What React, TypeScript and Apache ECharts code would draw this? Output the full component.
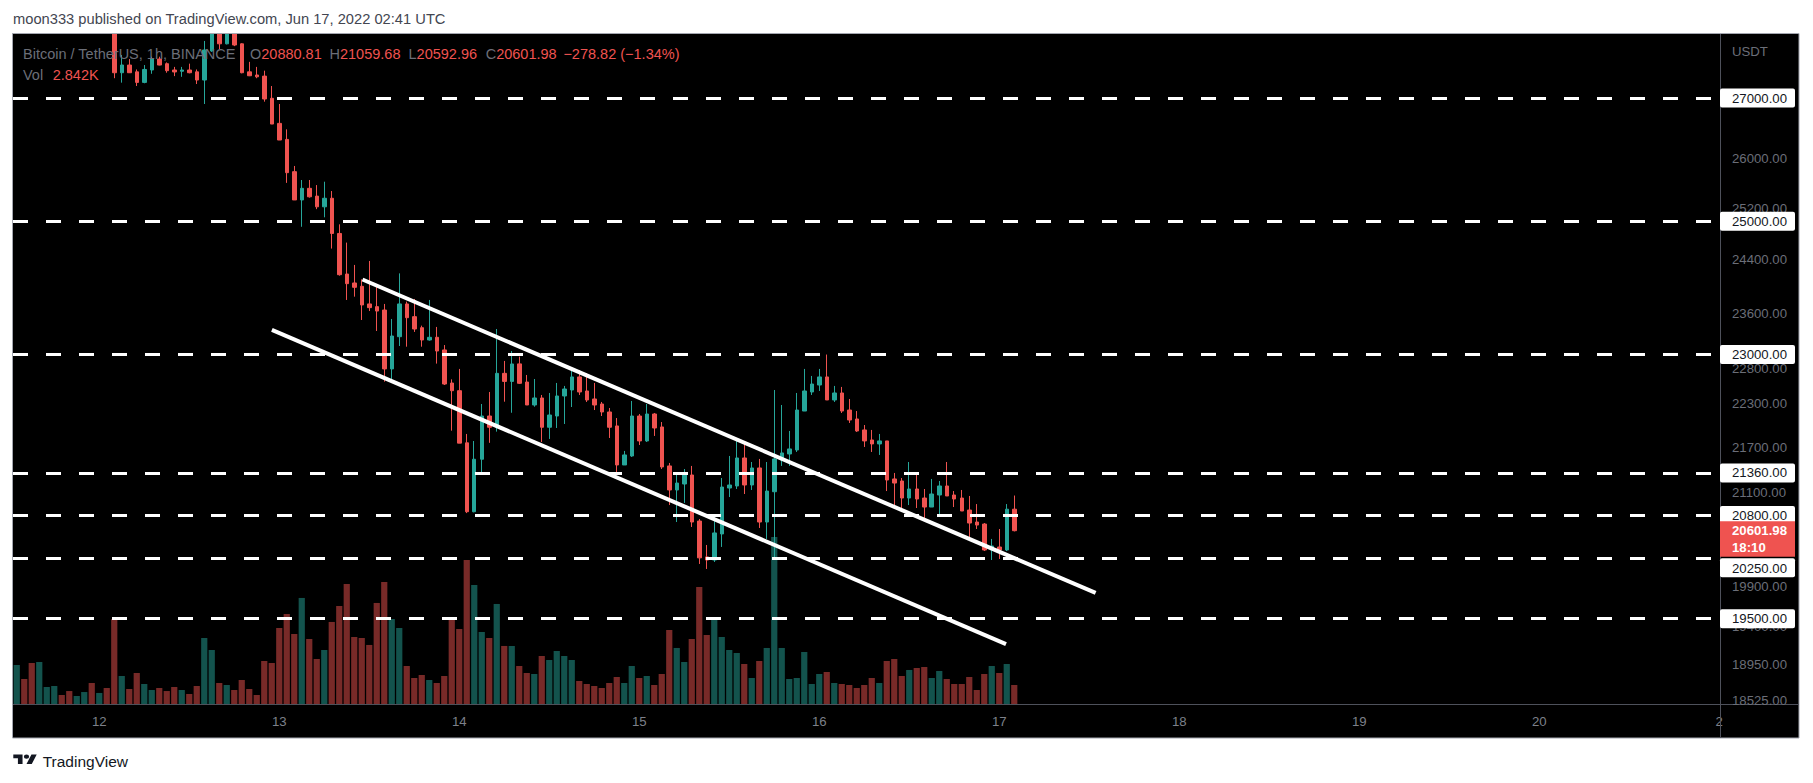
import React, { useEffect, useRef } from "react";
import * as echarts from "echarts";

// ---------- data ----------
const START_DAY = 11; // first category: Jun 11 13:00
const START_HOUR = 13;
const CATEGORY_COUNT = 228; // hourly slots up to Jun 21 00:00

const opens = [
  28920, 28990, 28900, 28780, 28850, 28880, 28910, 28870, 28820, 28850,
  28880, 28780, 28810, 28640, 27430, 27562, 27445, 27265, 27477, 27665,
  27585, 27477, 27455, 27477, 27445, 27305, 27805, 28180, 27930, 28150,
  27930, 27445, 27391, 27372, 26995, 26575, 26310, 25785, 25333, 25518,
  25394, 25225, 25360, 24808, 24187, 24052, 24002, 23739, 23699, 23649,
  22794, 23258, 23739, 23551, 23389, 23210, 23249, 23066, 22594, 22486,
  21765, 20848, 21543, 22133, 21978, 22731, 22617, 22866, 22608, 22286,
  22384, 21978, 22133, 22412, 22496, 22680, 22482, 22370, 22300, 22189,
  21996, 21466, 21587, 22133, 21791, 22161, 21982, 21453, 21133, 21212,
  21332, 20727, 20267, 20228, 20560, 21159, 21186, 21560, 21199, 21426,
  20714, 21110, 21533, 21614, 21668, 22202, 22468, 22566, 22680, 22356,
  22454, 22216, 22092, 21941, 21804, 21750, 21791, 21279, 21252, 21027,
  21146, 21027, 20909, 21067, 21186, 21067, 21027, 20870, 20714, 20688,
  20355, 20393, 20355, 20880.81,
];
const closes = [
  28990, 28900, 28780, 28850, 28880, 28910, 28870, 28820, 28850, 28880,
  28780, 28810, 28640, 27430, 27563, 27430, 27265, 27486, 27665, 27562,
  27465, 27443, 27477, 27430, 27305, 27822, 28180, 27930, 28150, 27909,
  27430, 27378, 27360, 26983, 26564, 26300, 25769, 25333, 25518, 25383,
  25225, 25360, 24808, 24177, 24042, 23987, 23724, 23684, 23634, 22794,
  23268, 23739, 23536, 23370, 23210, 23249, 23051, 22580, 22486, 21761,
  20848, 21543, 22133, 21978, 22731, 22617, 22865, 22590, 22286, 22384,
  21978, 22147, 22412, 22510, 22680, 22468, 22356, 22286, 22189, 21978,
  21466, 21601, 22133, 21791, 22161, 21968, 21439, 21133, 21225, 21332,
  20714, 20255, 20228, 20573, 21172, 21199, 21560, 21199, 21426, 20714,
  21119, 21547, 21628, 21682, 22216, 22482, 22580, 22680, 22356, 22454,
  22202, 22078, 21927, 21791, 21750, 21791, 21265, 21225, 21027, 21146,
  21014, 20909, 21080, 21186, 21054, 21014, 20857, 20701, 20675, 20355,
  20406, 20355, 20880.8, 20601.98,
];
const lows = [
  28880, 28850, 28740, 28730, 28800, 28850, 28840, 28790, 28800, 28820,
  28740, 28750, 28600, 27336, 27260, 27425, 27203, 27250, 27412, 27557,
  27430, 27372, 27360, 27420, 27237, 26899, 27790, 27835, 27920, 27890,
  27420, 27372, 27336, 26938, 26564, 26300, 25605, 25333, 24912, 25370,
  25188, 25060, 24575, 24162, 23798, 23847, 23502, 23634, 23341, 22613,
  22623, 23123, 23113, 23327, 23113, 23200, 22870, 22566, 21931, 21761,
  20830, 20840, 21370, 21765, 21918, 22332, 22178, 22580, 22286, 22262,
  21776, 21818, 21968, 22023, 22258, 22426, 22328, 22216, 22133, 21831,
  21359, 21466, 21574, 21736, 21777, 21859, 21412, 20935, 20714, 20962,
  20650, 20178, 20115, 20203, 20394, 21040, 21146, 21080, 21133, 20637,
  20496, 20266, 21453, 21453, 21641, 22202, 22426, 22482, 22356, 22328,
  22175, 22037, 21914, 21709, 21641, 21601, 21119, 20883, 20896, 20935,
  20896, 20740, 20909, 20818, 21054, 20909, 20857, 20496, 20624, 20342,
  20228, 20241, 20342, 20592.96,
];
const highs = [
  29050, 29020, 28950, 28900, 28930, 28960, 28940, 28900, 28880, 28910,
  28900, 28850, 28830, 28660, 27735, 27665, 27486, 27562, 27706, 27706,
  27607, 27530, 27530, 27586, 27486, 27980, 28250, 28220, 28200, 28190,
  27940, 27617, 27530, 27465, 27203, 26899, 26476, 25877, 25651, 25651,
  25570, 25624, 25475, 24950, 24667, 24325, 24107, 24385, 24002, 23739,
  23517, 24197, 23773, 23813, 23419, 23798, 23400, 23137, 22646, 22794,
  21886, 21790, 22300, 22468, 23370, 22908, 23051, 22970, 22708, 22651,
  22426, 22454, 22595, 22553, 22794, 22779, 22736, 22595, 22328, 22244,
  22105, 21655, 22342, 22161, 22300, 22175, 22050, 21493, 21345, 21412,
  21453, 20753, 20419, 20818, 21292, 21587, 21804, 21777, 21506, 21547,
  21506, 22496, 22286, 21927, 22454, 22794, 22694, 22794, 23000, 22553,
  22539, 22370, 22202, 22009, 21941, 21886, 21791, 21359, 21292, 21506,
  21359, 21146, 21279, 21252, 21506, 21119, 21133, 21054, 20948, 20701,
  20496, 20624, 20948, 21059.68,
];
// volume in thousands of BTC
const volumesK = [
  5.83, 3.74, 6.13, 6.28, 2.54, 2.69, 1.35, 1.94, 1.2, 1.79,
  3.14, 1.65, 2.39, 12.71, 4.19, 2.24, 4.64, 2.99, 2.09, 2.39,
  1.94, 2.54, 2.09, 1.5, 2.69, 9.87, 8.08, 3.14, 2.84, 2.09,
  3.59, 2.24, 1.35, 6.43, 6.13, 11.37, 13.46, 10.47, 15.86, 9.72,
  6.73, 8.08, 12.27, 14.66, 17.95, 10.02, 9.87, 8.83, 15.11, 18.25,
  12.71, 11.37, 5.68, 3.89, 4.34, 3.59, 3.14, 4.19, 13.01, 11.22,
  21.54, 17.8, 10.77, 9.87, 14.96, 8.68, 8.68, 5.68, 4.64, 4.49,
  7.18, 6.58, 7.93, 7.18, 6.58, 3.44, 2.99, 2.69, 2.39, 3.14,
  4.04, 3.14, 5.68, 3.89, 4.19, 2.84, 4.49, 11.07, 8.38, 6.28,
  9.72, 17.5, 10.32, 13.01, 10.02, 8.08, 7.63, 5.98, 3.89, 6.43,
  8.38, 24.98, 8.38, 3.74, 3.89, 7.78, 2.99, 4.49, 4.79, 3.14,
  2.99, 2.84, 2.39, 2.84, 3.89, 3.14, 6.43, 6.73, 4.19, 5.09,
  5.38, 5.53, 3.89, 4.94, 3.74, 2.99, 2.99, 4.04, 2.09, 4.49,
  5.68, 4.64, 5.98, 2.842,
];

// day tick labels at midnights Jun 12 .. Jun 21 (last one clipped by the pane)
const dayTickLabels = ["12", "13", "14", "15", "16", "17", "18", "19", "20", "2"];
// price-scale labels shown by the chart
const priceScaleLabels = [26000, 25200, 24400, 23600, 22800, 22300, 21700, 21100, 19900, 19400, 18950, 18525];
// horizontal levels drawn by the author
const levelPrices = [27000, 25000, 23000, 21360, 20800, 20250, 19500];
// channel lines: [category position, price]
const upperChannel = [
  [46.1, 24104],
  [143.85, 19816],
];
const lowerChannel = [
  [34.02, 23358],
  [131.9, 19193],
];
const PRICE_MIN = 18487;
const PRICE_MAX = 28102;
const VOLUME_MAX = 100.2;
const countdownText = "18:10";
const headerText = "moon333 published on TradingView.com, Jun 17, 2022 02:41 UTC";
const symbolText = "Bitcoin / TetherUS, 1h, BINANCE";

// ---------- style ----------
const FONT = '"Liberation Sans", Arial, sans-serif';
const UP = "#26a69a";
const DOWN = "#ef5350";
const UP_VOL = "rgba(38,166,154,0.5)";
const DOWN_VOL = "rgba(239,83,80,0.5)";
const GRAY = "#6b6e78";
const SEP = "#4e515b";
const NO_LINE = { color: "rgba(0,0,0,0)", width: 1 };

echarts.graphic.registerShape(
  "tvLogo",
  echarts.graphic.extendPath(
    "M14 22H7V11H0V4h14v18zM28 22h-8l7.5-18h8L28 22zM20 4a4 4 0 1 0 0 8a4 4 0 1 0 0-8z",
    {}
  )
);

function pad2(n: number) {
  return n < 10 ? "0" + n : "" + n;
}

const categories: string[] = [];
for (let k = 0; k < CATEGORY_COUNT; k++) {
  const h = START_HOUR + k;
  const day = START_DAY + Math.floor(h / 24);
  categories.push(`2022-06-${pad2(day)} ${pad2(h % 24)}:00`);
}

export default function App() {
  const ref = useRef<HTMLDivElement>(null);
  useEffect(() => {
    const el = ref.current as HTMLDivElement;
    const chart = echarts.init(el, null, { renderer: "svg", width: 1813, height: 783 });

    const n = closes.length;
    const last = n - 1;
    const candleData = opens.map((o, i) => [o, closes[i], lows[i], highs[i]]);
    const volData = volumesK.map((v, i) => ({
      value: v,
      itemStyle: { color: closes[i] >= opens[i] ? UP_VOL : DOWN_VOL },
    }));
    const change = closes[last] - closes[last - 1];
    const pct = (change / closes[last - 1]) * 100;
    const sign = change < 0 ? "\u2212" : "+";
    const lastCol = closes[last] >= opens[last] ? UP : DOWN;

    const richTxt = (letter: string, val: string) => ({
      text: `{g|${letter}}{r|${val}}`,
      rich: {
        g: { fill: GRAY, fontSize: 14.5, fontFamily: FONT },
        r: { fill: lastCol, fontSize: 14.5, fontFamily: FONT },
      },
      verticalAlign: "middle",
    });

    const fmt = (p: any) => Number(p.value).toFixed(2);

    const option: any = {
      animation: false,
      backgroundColor: "#ffffff",
      grid: [
        { left: 13, right: 90, top: 34, bottom: 79 },
        { left: 13, right: 90, top: 34, bottom: 79 },
      ],
      xAxis: [
        {
          type: "category",
          gridIndex: 0,
          data: categories,
          boundaryGap: true,
          z: 10,
          axisLine: { show: false },
          axisTick: { show: false },
          splitLine: { show: false },
          axisLabel: {
            show: true,
            interval: (_i: number, v: string) => v.endsWith("00:00"),
            formatter: (v: string) => {
              const d = parseInt(v.slice(8, 10), 10);
              return v.endsWith("00:00") ? dayTickLabels[d - 12] ?? "" : "";
            },
            color: "#7d808a",
            fontSize: 13.2,
            fontFamily: FONT,
            margin: 11,
          },
        },
        { type: "value", gridIndex: 0, min: -0.5, max: CATEGORY_COUNT - 0.5, show: false },
        { type: "category", gridIndex: 1, data: categories, boundaryGap: true, show: false },
      ],
      yAxis: [
        {
          type: "log",
          logBase: 10,
          gridIndex: 0,
          position: "right",
          min: PRICE_MIN,
          max: PRICE_MAX,
          axisLine: { show: false },
          axisTick: { show: false },
          axisLabel: { show: false },
          splitLine: { show: false },
        },
        { type: "value", gridIndex: 1, min: 0, max: VOLUME_MAX, show: false, splitLine: { show: false } },
      ],
      series: [
        {
          name: "Volume",
          type: "bar",
          xAxisIndex: 2,
          yAxisIndex: 1,
          data: volData,
          barWidth: 6.2,
          z: 1,
          silent: true,
        },
        {
          name: "BTCUSDT",
          type: "candlestick",
          xAxisIndex: 0,
          yAxisIndex: 0,
          data: candleData,
          barWidth: 4,
          z: 3,
          silent: true,
          itemStyle: { color: UP, color0: DOWN, borderColor: UP, borderColor0: DOWN, borderWidth: 1 },
          markLine: {
            silent: true,
            symbol: "none",
            z: 30,
            lineStyle: NO_LINE,
            label: {
              show: true,
              position: "end",
              distance: -3,
              color: "#ffffff",
              fontWeight: "bold",
              backgroundColor: DOWN,
              fontSize: 13.2,
              fontFamily: FONT,
              width: 55,
              lineHeight: 15,
            },
            data: [
              {
                yAxis: closes[last],
                label: { verticalAlign: "top", padding: [9, 8, 2, 12], formatter: countdownText },
              },
              {
                yAxis: closes[last],
                label: { verticalAlign: "middle", padding: [2, 8, 2, 12], formatter: closes[last].toFixed(2) },
              },
            ],
          },
        },
        {
          name: "Upper channel",
          type: "line",
          xAxisIndex: 1,
          yAxisIndex: 0,
          data: upperChannel,
          symbol: "none",
          silent: true,
          z: 5,
          lineStyle: { color: "#ffffff", width: 4 },
          markLine: {
            silent: true,
            symbol: "none",
            z: 29,
            lineStyle: { color: "#ffffff", width: 3, type: [15, 18] },
            label: {
              show: true,
              position: "end",
              distance: -3,
              formatter: fmt,
              color: "#131722",
              backgroundColor: "#ffffff",
              padding: [3, 8, 2, 12],
              borderRadius: 2,
              fontSize: 13.2,
              fontFamily: FONT,
              width: 55,
              lineHeight: 14,
            },
            data: levelPrices.map((v) =>
              v === 20250 ? { yAxis: v, label: { verticalAlign: "top" } } : { yAxis: v }
            ),
          },
        },
        {
          name: "Lower channel",
          type: "line",
          xAxisIndex: 1,
          yAxisIndex: 0,
          data: lowerChannel,
          symbol: "none",
          silent: true,
          z: 5,
          lineStyle: { color: "#ffffff", width: 4 },
          markLine: {
            silent: true,
            symbol: "none",
            z: 28,
            lineStyle: NO_LINE,
            label: {
              show: true,
              position: "end",
              distance: 9,
              formatter: fmt,
              color: GRAY,
              fontSize: 13.2,
              fontFamily: FONT,
            },
            data: priceScaleLabels.map((v) => ({ yAxis: v })),
          },
        },
      ],
      graphic: [
        {
          type: "rect",
          z: -10,
          silent: true,
          shape: { x: 12.5, y: 33.5, width: 1786.5, height: 704.5 },
          style: { fill: "#000000", stroke: "#a3a6af", lineWidth: 1 },
        },
        // page strip above the pane (hides candle parts above the price range)
        {
          type: "rect",
          z: 20,
          silent: true,
          shape: { x: 0, y: 0, width: 1813, height: 33 },
          style: { fill: "#ffffff" },
        },
        {
          type: "line",
          z: 21,
          silent: true,
          shape: { x1: 12.5, y1: 33.5, x2: 1799, y2: 33.5 },
          style: { stroke: "#a3a6af", lineWidth: 1 },
        },
        {
          type: "line",
          z: 21,
          silent: true,
          shape: { x1: 1720.5, y1: 34, x2: 1720.5, y2: 738 },
          style: { stroke: SEP, lineWidth: 1 },
        },
        {
          type: "line",
          z: 21,
          silent: true,
          shape: { x1: 13, y1: 704.5, x2: 1799, y2: 704.5 },
          style: { stroke: SEP, lineWidth: 1 },
        },
        {
          type: "text",
          z: 100,
          x: 13,
          y: 19,
          style: { text: headerText, fill: "#434651", fontSize: 14.7, fontFamily: FONT, verticalAlign: "middle" },
        },
        {
          type: "text",
          z: 100,
          x: 23,
          y: 54,
          style: { text: symbolText, fill: GRAY, fontSize: 14.5, fontFamily: FONT, verticalAlign: "middle" },
        },
        { type: "text", z: 100, x: 250, y: 54, style: richTxt("O", opens[last].toFixed(2)) },
        { type: "text", z: 100, x: 329.5, y: 54, style: richTxt("H", highs[last].toFixed(2)) },
        { type: "text", z: 100, x: 408.5, y: 54, style: richTxt("L", lows[last].toFixed(2)) },
        { type: "text", z: 100, x: 485.7, y: 54, style: richTxt("C", closes[last].toFixed(2)) },
        {
          type: "text",
          z: 100,
          x: 563.4,
          y: 54,
          style: {
            text: `${sign}${Math.abs(change).toFixed(2)} (${sign}${Math.abs(pct).toFixed(2)}%)`,
            fill: lastCol,
            fontSize: 14.5,
            fontFamily: FONT,
            verticalAlign: "middle",
          },
        },
        {
          type: "text",
          z: 100,
          x: 23,
          y: 75,
          style: { text: "Vol", fill: GRAY, fontSize: 14.5, fontFamily: FONT, verticalAlign: "middle" },
        },
        {
          type: "text",
          z: 100,
          x: 52.7,
          y: 75,
          style: {
            text: `${volumesK[last].toFixed(3)}K`,
            fill: lastCol,
            fontSize: 14.5,
            fontFamily: FONT,
            verticalAlign: "middle",
          },
        },
        {
          type: "text",
          z: 100,
          x: 1732,
          y: 51,
          style: { text: "USDT", fill: GRAY, fontSize: 13.2, fontFamily: FONT, verticalAlign: "middle" },
        },
        {
          type: "tvLogo",
          z: 100,
          silent: true,
          x: 13.3,
          y: 752.5,
          scaleX: 0.66,
          scaleY: 0.52,
          style: { fill: "#131722" },
        },
        {
          type: "text",
          z: 100,
          x: 42.7,
          y: 761,
          style: { text: "TradingView", fill: "#131722", fontSize: 15.5, fontFamily: FONT, verticalAlign: "middle" },
        },
      ],
    };

    chart.setOption(option);
    return () => chart.dispose();
  }, []);

  return (
    <div
      ref={ref}
      style={{ position: "fixed", left: 0, top: 0, width: 1813, height: 783, background: "#ffffff" }}
    />
  );
}
